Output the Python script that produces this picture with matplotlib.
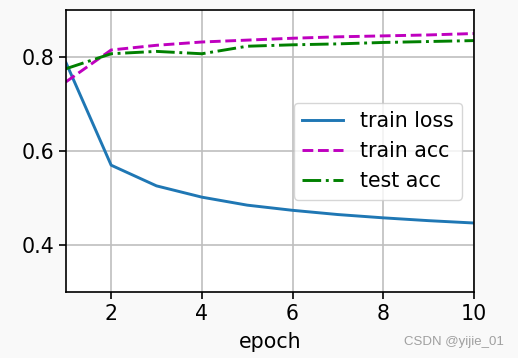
import matplotlib
matplotlib.use("Agg")
import matplotlib.pyplot as plt

epochs = [1, 2, 3, 4, 5, 6, 7, 8, 9, 10]
train_loss = [0.789, 0.570, 0.526, 0.502, 0.485, 0.474, 0.465, 0.458, 0.452, 0.447]
train_acc = [0.747, 0.815, 0.825, 0.832, 0.836, 0.840, 0.843, 0.845, 0.847, 0.850]
test_acc = [0.775, 0.807, 0.812, 0.807, 0.823, 0.826, 0.828, 0.831, 0.833, 0.835]

plt.rcParams['font.size'] = 14.8

fig = plt.figure(figsize=(5.18, 3.58), dpi=100, facecolor='#f9f9f9')
ax = fig.add_axes([0.127, 0.184, 0.788, 0.788])

ax.plot(epochs, train_loss, '-', color='#1f77b4', lw=2.1, label='train loss')
ax.plot(epochs, train_acc, 'm--', lw=2.1, label='train acc')
ax.plot(epochs, test_acc, 'g-.', lw=2.1, label='test acc')

ax.set_xlim(1, 10)
ax.set_ylim(0.3, 0.9)
ax.set_xticks([2, 4, 6, 8, 10])
ax.set_yticks([0.4, 0.6, 0.8])
ax.set_xlabel('epoch', labelpad=6)
ax.grid(True, color='#bfbfbf', lw=1.2)
ax.tick_params(length=5, width=1.2)
for s in ax.spines.values():
    s.set_linewidth(1.2)
ax.legend(loc='center right', borderaxespad=0.6)

fig.text(0.972, 0.045, 'CSDN @yijie_01', color='#a0a0a0', fontsize=9.5,
         family='Liberation Sans', ha='right', va='center')

fig.savefig('out.png', dpi=100, facecolor=fig.get_facecolor())
